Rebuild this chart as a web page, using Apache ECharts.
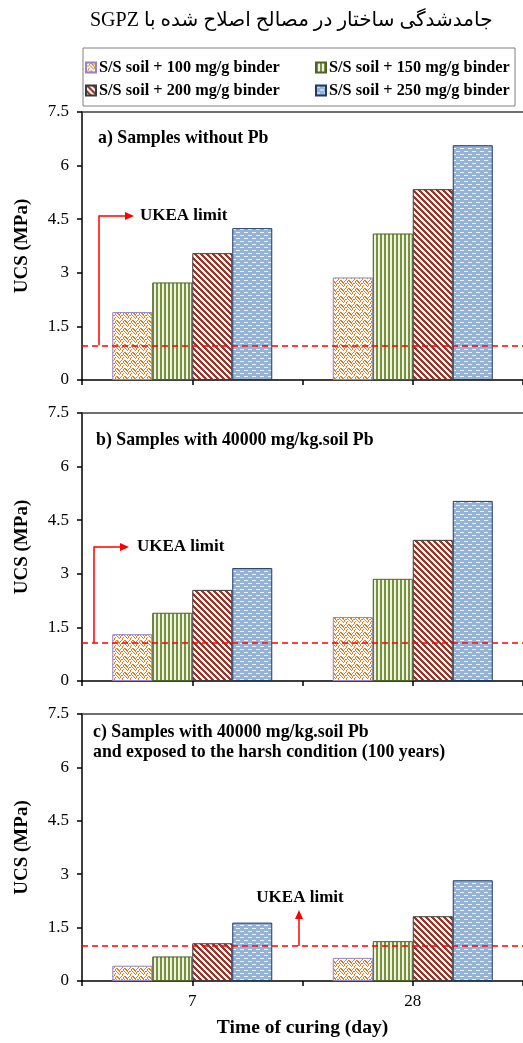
<!DOCTYPE html>
<html><head><meta charset="utf-8">
<script src="https://cdn.jsdelivr.net/npm/echarts@6/dist/echarts.min.js"></script>
<style>html,body{margin:0;padding:0;background:#fff}#c{width:523px;height:1043px}</style>
</head><body><div id="c"></div>
<script>
// ---------- data ----------
const titleText = 'جامدشدگی ساختار در مصالح اصلاح شده با SGPZ';
const categories = ['7', '28'];
const seriesNames = ['S/S soil + 100 mg/g binder', 'S/S soil + 150 mg/g binder', 'S/S soil + 200 mg/g binder', 'S/S soil + 250 mg/g binder'];
const panelLabels = ['a) Samples without Pb', 'b) Samples with 40000 mg/kg.soil Pb', 'c) Samples with 40000 mg/kg.soil Pb\nand exposed to the harsh condition (100 years)'];
const a100 = [1.90, 2.87], a150 = [2.73, 4.10], a200 = [3.55, 5.34], a250 = [4.25, 6.57];
const b100 = [1.31, 1.79], b150 = [1.91, 2.86], b200 = [2.55, 3.95], b250 = [3.16, 5.04];
const c100 = [0.43, 0.65], c150 = [0.69, 1.12], c200 = [1.06, 1.82], c250 = [1.64, 2.83];
const limits = [0.97, 1.06, 0.98];
const limitLabel = 'UKEA limit';
const yMin = 0, yMax = 7.5, yStep = 1.5;
const yName = 'UCS (MPa)', xName = 'Time of curing (day)';

// ---------- patterns ----------
function pat(w, h, fn) {
  const c = document.createElement('canvas'); c.width = w; c.height = h;
  const x = c.getContext('2d');
  for (let j = 0; j < h; j++) for (let i = 0; i < w; i++) { x.fillStyle = fn(i, j); x.fillRect(i, j, 1, 1); }
  return { image: c, repeat: 'repeat' };
}
const p100 = pat(8, 8, (i, j) => ((i < 4 ? (i + j) % 4 < 2 : (i - j + 8) % 4 < 2) && ((i + 2 * j) % 3 !== 0) ? '#d9822b' : '#fffaf2'));
const p150 = pat(4, 1, (i) => (i < 2 ? '#76923c' : '#eef3e1'));
const p200 = pat(6, 6, (i, j) => ((i - j + 6) % 6 < 3 ? '#943634' : '#fdf6e3'));
const p250 = pat(8, 6, (i, j) => (((j === 1 && i < 4) || (j === 4 && i >= 4)) ? '#eef4fb' : '#95b3d7'));
const fills = [p100, p150, p200, p250];
const borders = ['#9b80c5', '#4f6228', '#3b3b3b', '#1f3864'];
const panels = [[a100, a150, a200, a250], [b100, b150, b200, b250], [c100, c150, c200, c250]];

const serif = "'Liberation Serif', 'Times New Roman', serif";
const gridTops = [112, 413, 714], gridH = [268, 268, 267];

const grid = gridTops.map((t, g) => ({ left: 82, width: 441, top: t, height: gridH[g] }));
const xAxis = [], yAxis = [];
gridTops.forEach((t, g) => {
  xAxis.push({
    type: 'category', gridIndex: g, data: categories, position: 'bottom',
    axisLine: { lineStyle: { color: '#000', width: 1.5 } }, axisTick: { show: false },
    axisLabel: { show: g === 2, fontFamily: serif, fontSize: 17, color: '#000', margin: 12 },
    name: g === 2 ? xName : '', nameLocation: 'middle', nameGap: 37,
    nameTextStyle: { fontFamily: serif, fontSize: 19.5, fontWeight: 'bold', color: '#000' }
  });
  xAxis.push({
    type: 'category', gridIndex: g, data: ['', '', '', ''], position: 'bottom',
    axisLine: { show: false }, axisLabel: { show: false },
    axisTick: { show: true, interval: 0, length: 5, lineStyle: { color: '#000', width: 1.5 } }
  });
  xAxis.push({
    type: 'category', gridIndex: g, data: categories, position: 'top',
    axisLine: { lineStyle: { color: '#404040', width: 1.5 } }, axisTick: { show: false }, axisLabel: { show: false }
  });
  yAxis.push({
    type: 'value', gridIndex: g, min: yMin, max: yMax, interval: yStep,
    axisLine: { show: true, lineStyle: { color: '#000', width: 1.5 } },
    axisTick: { show: true, length: 5, lineStyle: { color: '#000', width: 1.5 } },
    axisLabel: { fontFamily: serif, fontSize: 17, color: '#000', margin: 13 },
    splitLine: { show: false },
    name: yName, nameLocation: 'middle', nameGap: 50,
    nameTextStyle: { fontFamily: serif, fontSize: 19, fontWeight: 'bold', color: '#000' }
  });
});

const series = [];
panels.forEach((vals, g) => vals.forEach((v, k) => {
  const s = {
    type: 'bar', name: seriesNames[k], xAxisIndex: g * 3, yAxisIndex: g, data: v,
    barWidth: 40, barGap: '0%', silent: true,
    itemStyle: { color: fills[k], borderColor: borders[k], borderWidth: 1 }
  };
  if (k === 3) s.markLine = {
    silent: true, symbol: 'none', label: { show: false },
    lineStyle: { color: '#ff0000', type: [6, 4], width: 1.5 },
    data: [{ yAxis: limits[g] }]
  };
  series.push(s);
}));

const title = [{
  text: '\u202B' + titleText + '\u202C', left: 90, top: 11, padding: 0,
  textStyle: { fontFamily: "'Liberation Serif', 'DejaVu Sans', serif", fontSize: 20, fontWeight: 'normal', color: '#000' }
}];
const labelTops = [129, 431, 723];
const labelLefts = [98, 96, 93];
panelLabels.forEach((t, g) => title.push({
  text: t, left: labelLefts[g], top: labelTops[g], padding: 0,
  textStyle: { fontFamily: serif, fontSize: 17.8, fontWeight: 'bold', color: '#000', lineHeight: 19.5 }
}));

const legend = seriesNames.map((n, k) => ({
  data: [n], left: k % 2 === 0 ? 85 : 315, top: k < 2 ? 59.5 : 82.5, padding: 0,
  itemWidth: 10, itemHeight: 10, icon: 'rect', selectedMode: false,
  textStyle: { fontFamily: serif, fontSize: 16.3, fontWeight: 'bold', color: '#000', padding: [0, 0, 0, -2] }
}));

const chart = echarts.init(document.getElementById('c'), null, { renderer: 'canvas' });
chart.setOption({ animation: false, backgroundColor: '#fff', title, legend, grid, xAxis, yAxis, series });

const yl = limits.map((l, g) => chart.convertToPixel({ yAxisIndex: g }, l));
const red = '#ff0000';
const txt = { fontFamily: serif, fontSize: 17, fontWeight: 'bold', fill: '#000' };
const graphic = [
  { type: 'rect', shape: { x: 83, y: 48, width: 432, height: 58 }, style: { fill: 'none', stroke: '#808080', lineWidth: 1 } },
  { type: 'polyline', shape: { points: [[99, yl[0]], [99, 216], [126, 216]] }, style: { stroke: red, lineWidth: 1.5, fill: null } },
  { type: 'polygon', shape: { points: [[134, 216], [125, 212], [125, 220]] }, style: { fill: red } },
  { type: 'text', x: 140, y: 216, style: Object.assign({ text: limitLabel, verticalAlign: 'middle' }, txt) },
  { type: 'polyline', shape: { points: [[94, yl[1]], [94, 547], [121, 547]] }, style: { stroke: red, lineWidth: 1.5, fill: null } },
  { type: 'polygon', shape: { points: [[129, 547], [120, 543], [120, 551]] }, style: { fill: red } },
  { type: 'text', x: 137, y: 547, style: Object.assign({ text: limitLabel, verticalAlign: 'middle' }, txt) },
  { type: 'polyline', shape: { points: [[299, yl[2]], [299, 918]] }, style: { stroke: red, lineWidth: 1.5, fill: null } },
  { type: 'polygon', shape: { points: [[299, 910], [295, 919], [303, 919]] }, style: { fill: red } },
  { type: 'text', x: 300, y: 898, style: Object.assign({ text: limitLabel, verticalAlign: 'middle', align: 'center' }, txt) }
];
chart.setOption({ graphic });
</script></body></html>
